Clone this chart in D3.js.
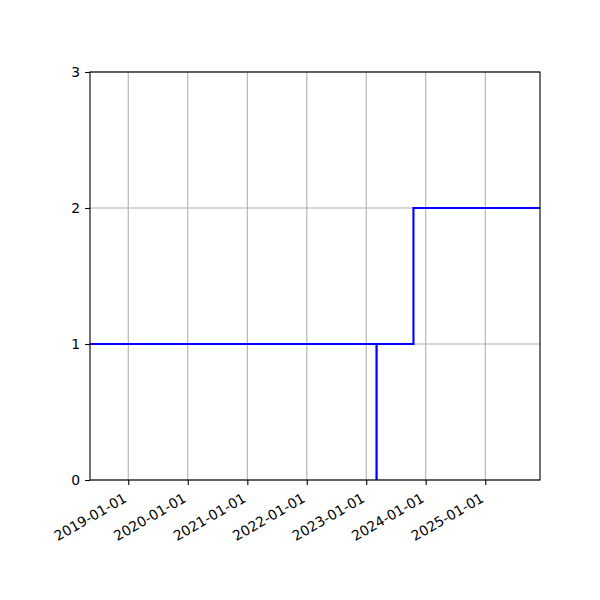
<!DOCTYPE html>
<html>
<head>
<meta charset="utf-8">
<script src="https://cdn.jsdelivr.net/npm/d3@7"></script>
<style>
  body { margin: 0; background: #fff; }
  svg { display: block; }
</style>
</head>
<body>
<div id="chart"></div>
<script>
// Step series: value changes at each date, held until the next one
const dates = ['2018-05-11', '2023-03-05', '2023-03-06', '2023-10-18', '2025-12-03'];
const values = [1, 0, 1, 2, 2];
const xTicks = ['2019-01-01', '2020-01-01', '2021-01-01', '2022-01-01', '2023-01-01', '2024-01-01', '2025-01-01'];
const yTicks = [0, 1, 2, 3];

const parse = d3.utcParse('%Y-%m-%d');
const fmt = d3.utcFormat('%Y-%m-%d');
const FONT = '"DejaVu Sans", sans-serif';

const W = 600, H = 600;
const M = { top: 72, right: 60, bottom: 120, left: 90 };
const iW = W - M.left - M.right;
const iH = H - M.top - M.bottom;

const pts = dates.map((d, i) => ({ t: parse(d), v: values[i] }));

const svg = d3.select('#chart').append('svg').attr('width', W).attr('height', H);
const g = svg.append('g').attr('transform', `translate(${M.left},${M.top})`);

const x = d3.scaleUtc().domain(d3.extent(pts, d => d.t)).range([0, iW]);
const y = d3.scaleLinear().domain([0, 3]).range([iH, 0]);

// Grid
g.append('g').selectAll('line').data(xTicks.map(parse)).enter().append('line')
    .attr('x1', d => x(d)).attr('x2', d => x(d)).attr('y1', 0).attr('y2', iH)
    .attr('stroke', '#b0b0b0').attr('stroke-width', 1.1);
g.append('g').selectAll('line').data(yTicks).enter().append('line')
    .attr('x1', 0).attr('x2', iW).attr('y1', d => y(d)).attr('y2', d => y(d))
    .attr('stroke', '#b0b0b0').attr('stroke-width', 1.1);

// Line
g.append('clipPath').attr('id', 'clip').append('rect').attr('width', iW).attr('height', iH);
g.append('path').datum(pts)
    .attr('clip-path', 'url(#clip)')
    .attr('fill', 'none').attr('stroke', '#0000ff').attr('stroke-width', 2.1)
    .attr('d', d3.line().curve(d3.curveStepAfter).x(d => x(d.t)).y(d => y(d.v)));

// Axes
const xAxis = g.append('g').attr('transform', `translate(0,${iH})`)
    .call(d3.axisBottom(x).tickValues(xTicks.map(parse)).tickFormat(fmt).tickSize(4.9).tickSizeOuter(0));
xAxis.selectAll('text')
    .attr('font-size', 13.9).attr('font-family', FONT).attr('fill', '#000')
    .attr('text-anchor', 'end')
    .attr('dy', null).attr('y', null)
    .attr('transform', 'translate(-1,21) rotate(-30)');

const yAxis = g.append('g')
    .call(d3.axisLeft(y).tickValues(yTicks).tickFormat(d3.format('d')).tickSize(4.9).tickSizeOuter(0).tickPadding(4.9));
yAxis.selectAll('text').attr('font-size', 13.9).attr('font-family', FONT).attr('fill', '#000');

svg.selectAll('.domain').remove();
svg.selectAll('.tick line').attr('stroke', '#000').attr('stroke-width', 1.1);

// Frame
g.append('rect').attr('width', iW).attr('height', iH)
    .attr('fill', 'none').attr('stroke', '#000').attr('stroke-width', 1.1);
</script>
</body>
</html>
